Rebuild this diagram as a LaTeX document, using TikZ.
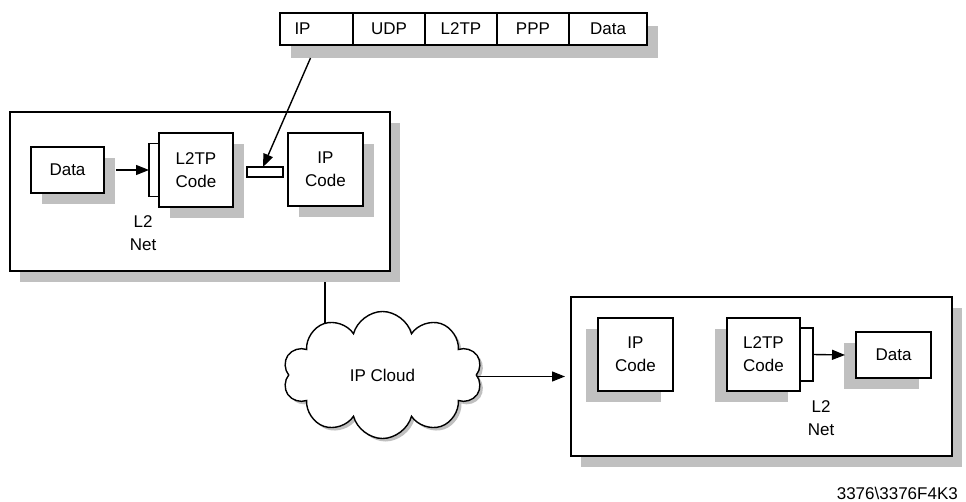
\documentclass[tikz,border=0pt]{standalone}
\usepackage{fontspec}
\setmainfont{Liberation Sans}
\usetikzlibrary{arrows.meta, positioning, shapes.symbols, shadows, backgrounds}
\definecolor{shadowgray}{RGB}{192,192,192}

\begin{document}
\begin{tikzpicture}[
    x=1pt, y=-1pt,
    every node/.style={font=\fontsize{17}{23}\selectfont},
    base/.style={draw, line width=1.6pt, fill=white, inner sep=0pt, outer sep=0pt, align=center},
    host/.style={base, minimum width=381pt, minimum height=159pt,
                 drop shadow={shadow xshift=10pt, shadow yshift=-11pt, fill=shadowgray, opacity=1}},
    block/.style={base, drop shadow={shadow xshift=11pt, shadow yshift=-11pt, fill=shadowgray, opacity=1}},
    blockl/.style={base, drop shadow={shadow xshift=-12pt, shadow yshift=-11pt, fill=shadowgray, opacity=1}},
    field/.style={base, minimum height=32pt,
                  drop shadow={shadow xshift=11pt, shadow yshift=-13pt, fill=shadowgray, opacity=1}},
    tab/.style={base, minimum width=10pt, minimum height=53pt},
    nettext/.style={align=center, inner sep=0pt},
    arrow/.style={-{Triangle[length=13pt, width=10pt]}, line width=1.4pt}
]
    \useasboundingbox (0,0) rectangle (966,502);

    % Packet
    \node [field, minimum width=73pt, text width=44pt, align=left] (ipf) at (316.5,29) {IP};
    \node [field, minimum width=72pt, right=0pt of ipf] (udpf) {UDP};
    \node [field, minimum width=72pt, right=0pt of udpf] (l2tpf) {L2TP};
    \node [field, minimum width=72pt, right=0pt of l2tpf] (pppf) {PPP};
    \node [field, minimum width=78pt, right=0pt of pppf] (dataf) {Data};

    % Sending host
    \node [host, minimum width=380pt] (hostA) at (200,191.5) {};
    \node [block, minimum width=73pt, minimum height=46pt] (dataA) at (67.5,170) {Data};
    \node [block, minimum size=74pt] (l2tpA) at (196,170) {L2TP\\Code};
    \node [tab, left=0pt of l2tpA] (tabA) {};
    \node [base, minimum width=36pt, minimum height=10pt] (hdr) at (265,172) {};
    \node [block, minimum width=75pt, minimum height=73pt] (ipA) at (325.5,169.5) {IP\\Code};
    \node [nettext] (netA) at (143,233) {L2\\Net};

    % Cloud
    \node [cloud, draw, line width=1.4pt, fill=white, cloud puffs=10, aspect=1.6,
           minimum width=199pt, minimum height=127pt,
           drop shadow={shadow xshift=3pt, shadow yshift=-3pt, fill=shadowgray, opacity=1}]
          (cloud) at (382.5,375) {IP Cloud};

    % Receiving host
    \node [host] (hostB) at (761.5,376.5) {};
    \node [blockl, minimum width=75pt, minimum height=73pt] (ipB) at (635.5,354.5) {IP\\Code};
    \node [blockl, minimum size=73pt] (l2tpB) at (763.5,354.5) {L2TP\\Code};
    \node [tab, minimum width=13pt, right=0pt of l2tpB] (tabB) {};
    \node [blockl, minimum width=75pt, minimum height=46pt] (dataB) at (893.5,355) {Data};
    \node [nettext] (netB) at (821,418) {L2\\Net};

    \node [anchor=base east, inner sep=0pt] (figcode) at (958,499) {3376\textbackslash 3376F4K3};

    % Connections
    \draw [arrow] ([xshift=12pt]dataA.east) -- (tabA.west);
    \draw [arrow] ([xshift=-6pt,yshift=-13pt]ipf.south) -- ([xshift=-2pt]hdr.north);
    \coordinate (inB) at ([xshift=-6pt]hostB.west);
    \draw [arrow] (cloud.east |- inB) -- (inB);
    \draw [arrow] (tabB.east) -- ([xshift=-11pt]dataB.west);

    \coordinate (drop) at ([xshift=125pt]hostA.south);
    \begin{pgfonlayer}{background}
        \draw [line width=1.4pt] (drop) -- (drop |- cloud.center);
    \end{pgfonlayer}

\end{tikzpicture}
\end{document}
